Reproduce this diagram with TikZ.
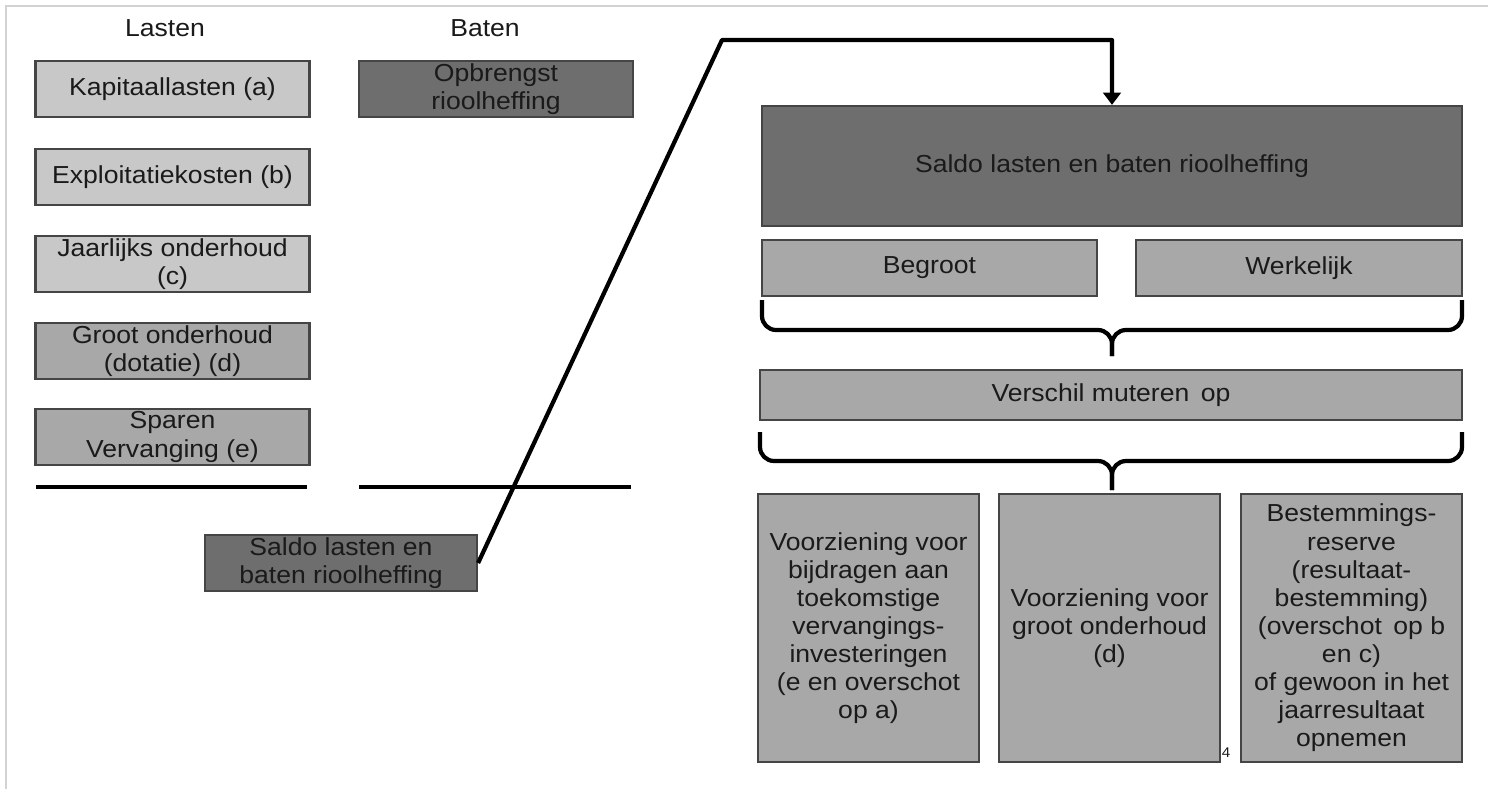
\documentclass[tikz,border=0pt]{standalone}
\usepackage{fontspec}
\setmainfont{Liberation Sans}[FakeStretch=1.08]
\usepackage{tikz}
\usetikzlibrary{positioning,arrows.meta,calc}
\definecolor{lightgrey}{HTML}{C8C8C8}
\definecolor{midgrey}{HTML}{A8A8A8}
\definecolor{darkgrey}{HTML}{6E6E6E}
\definecolor{boxline}{HTML}{454545}
\definecolor{frameline}{HTML}{D2D2D2}
\definecolor{inktext}{HTML}{1A1A1A}

\tikzset{
  greybox/.style={draw=boxline, line width=1.3pt, inner sep=0pt, align=center,
    text=inktext, font=\fontsize{14}{16}\selectfont},
  lightbox/.style={greybox, fill=lightgrey},
  midbox/.style={greybox, fill=midgrey},
  darkbox/.style={greybox, fill=darkgrey},
  flow/.style={line width=2.4pt, line join=round},
}

\begin{document}
\begin{tikzpicture}[x=0.02cm, y=-0.02cm]

    \useasboundingbox (0,0) rectangle (1488,789);
    \draw[frameline, line width=1.2pt] (6,789) -- (6,6) -- (1488,6);

    % left side
    \node[font=\fontsize{14}{16}\selectfont, text=inktext] (lasten) at (165,28) {Lasten};
    \node[font=\fontsize{14}{16}\selectfont, text=inktext] (baten) at (485,28) {Baten};

    \node[lightbox, minimum width=5.48cm, minimum height=1.12cm] (kap) at (172.5,89) {Kapitaallasten (a)};
    \node[lightbox, minimum width=5.48cm, minimum height=1.12cm] (expl) at (172.5,177) {Exploitatiekosten (b)};
    \node[lightbox, minimum width=5.48cm, minimum height=1.12cm] (jaar) at (172.5,264) {Jaarlijks onderhoud\\(c)};
    \node[midbox, minimum width=5.48cm, minimum height=1.12cm] (groot) at (172.5,351) {Groot onderhoud\\(dotatie) (d)};
    \node[midbox, minimum width=5.48cm, minimum height=1.12cm] (sparen) at (172.5,437) {Sparen\\Vervanging (e)};

    \node[darkbox, minimum width=5.48cm, minimum height=1.12cm] (opbr) at (496,89) {Opbrengst\\rioolheffing};

    \draw[line width=2.8pt] (36,487) -- (307,487);
    \draw[line width=2.8pt] (359,487) -- (631,487);

    \node[darkbox, minimum width=5.44cm, minimum height=1.12cm] (saldoklein) at (341,563) {Saldo lasten en\\baten rioolheffing};

    % right side
    \node[darkbox, minimum width=14cm, minimum height=2.4cm] (saldo) at (1112,166) {Saldo lasten en baten rioolheffing};
    \node[midbox, minimum width=6.7cm, minimum height=1.12cm] (begroot) at (929.5,268) {Begroot};
    \node[midbox, minimum width=6.52cm, minimum height=1.12cm] (werkelijk) at (1299,268) {Werkelijk};

    \draw[flow, rounded corners=8pt] (762,300) -- (762,330) -- (1112,330) -- (1112,356);
    \draw[flow, rounded corners=8pt] (1462,300) -- (1462,330) -- (1112,330) -- (1112,356);

    \node[midbox, minimum width=14.04cm, minimum height=1cm] (verschil) at (1111,395) {Verschil muteren\, op};

    \draw[flow, rounded corners=8pt] (760,432) -- (760,461) -- (1112,461) -- (1112,490);
    \draw[flow, rounded corners=8pt] (1462,432) -- (1462,461) -- (1112,461) -- (1112,490);

    \node[midbox, minimum width=4.42cm, minimum height=5.36cm] (vervang) at (868.5,628)
        {Voorziening voor\\bijdragen aan\\toekomstige\\vervangings-\\investeringen\\(e en overschot\\op a)};
    \node[midbox, minimum width=4.42cm, minimum height=5.36cm] (onderh) at (1109.5,628)
        {Voorziening voor\\groot onderhoud\\(d)};
    \node[midbox, minimum width=4.42cm, minimum height=5.36cm] (reserve) at (1351.5,628)
        {Bestemmings-\\reserve\\(resultaat-\\bestemming)\\(overschot\, op b\\en c)\\of gewoon in het\\jaarresultaat\\opnemen};

    \node[font=\fontsize{8}{8}\selectfont, text=inktext, inner sep=0pt] (nr) at (1226,753) {4};

    % connector
    \coordinate (knik) at (722,40);
    \draw[flow, -{Triangle[width=10pt,length=7pt]}] (saldoklein.east) -- (knik)
        -- (knik -| saldo.north) -- (saldo.north);

\end{tikzpicture}
\end{document}
